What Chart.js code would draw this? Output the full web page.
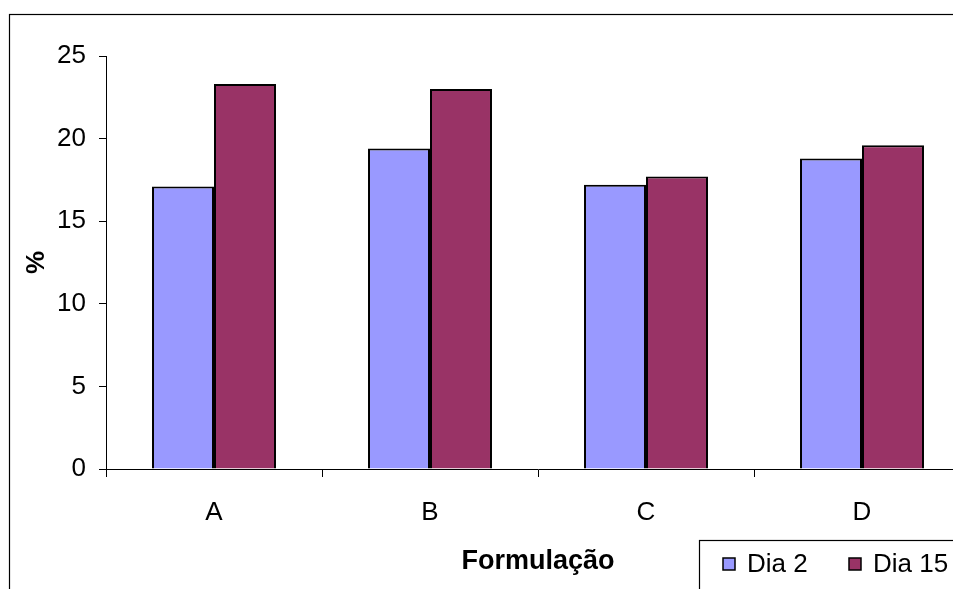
<!DOCTYPE html>
<html>
<head>
<meta charset="utf-8">
<script src="https://cdn.jsdelivr.net/npm/chart.js@4"></script>
<style>
  html, body { margin: 0; padding: 0; background: #fff; overflow: hidden; }
  #wrap { position: absolute; left: 0; top: 0; width: 1000px; height: 589px; }
</style>
</head>
<body>
<div id="wrap"><canvas id="c" width="1000" height="589"></canvas></div>
<script>
// Formulations and measured percentage per storage day
const categories = ['A', 'B', 'C', 'D'];
const seriesNames = ['Dia 2', 'Dia 15'];
const dia2 = [17.1, 19.4, 17.2, 18.8];
const dia15 = [23.3, 23.0, 17.7, 19.6];
const yTicks = [0, 5, 10, 15, 20, 25];

const FONT = '"Liberation Sans", Arial, sans-serif';
const colors = ['#9999FF', '#993366'];

// Outer chart frame and the boxed legend in the lower right
const framePlugin = {
  id: 'frame',
  beforeDraw(chart) {
    const ctx = chart.ctx;
    ctx.save();
    ctx.fillStyle = '#fff';
    ctx.fillRect(0, 0, chart.width, chart.height);
    ctx.strokeStyle = '#000';
    ctx.lineWidth = 1.2;
    ctx.strokeRect(9.5, 14.5, 3000, 3000);
    ctx.restore();
  },
  afterDraw(chart) {
    const ctx = chart.ctx;
    ctx.save();
    ctx.fillStyle = '#fff';
    ctx.fillRect(699.5, 540.5, 400, 100);
    ctx.strokeStyle = '#000';
    ctx.lineWidth = 1.2;
    ctx.strokeRect(699.5, 540.5, 400, 100);
    ctx.font = '26px ' + FONT;
    ctx.textBaseline = 'middle';
    const xs = [723, 849];
    chart.data.datasets.forEach((ds, i) => {
      const x = xs[i];
      ctx.fillStyle = ds.backgroundColor;
      ctx.fillRect(x, 558, 12, 12);
      ctx.strokeStyle = '#000';
      ctx.lineWidth = 1.5;
      ctx.strokeRect(x, 558, 12, 12);
      ctx.fillStyle = '#000';
      ctx.fillText(ds.label, x + 24, 565);
    });
    ctx.restore();
  }
};

new Chart(document.getElementById('c'), {
  type: 'bar',
  data: {
    labels: categories,
    datasets: [
      { label: seriesNames[0], data: dia2, backgroundColor: colors[0], borderColor: '#000', borderWidth: 2 },
      { label: seriesNames[1], data: dia15, backgroundColor: colors[1], borderColor: '#000', borderWidth: 2 }
    ]
  },
  options: {
    responsive: false,
    animation: false,
    devicePixelRatio: 1,
    layout: { padding: { top: 56, right: 30, left: 0, bottom: 0 } },
    datasets: { bar: { categoryPercentage: 0.574, barPercentage: 1.0 } },
    plugins: { legend: { display: false }, tooltip: { enabled: false } },
    scales: {
      x: {
        offset: true,
        grid: { offset: true, drawOnChartArea: false, drawTicks: true, tickLength: 8, color: '#000', lineWidth: 1 },
        border: { color: '#000', width: 1 },
        ticks: { color: '#000', font: { family: FONT, size: 26 }, padding: 20 },
        title: { display: true, text: 'Formulação', color: '#000', font: { family: FONT, size: 27, weight: 'bold' }, padding: { top: 0, bottom: 11 } },
        afterFit(s) { s.height = 120; }
      },
      y: {
        min: 0, max: 25,
        afterBuildTicks(s) { s.ticks = yTicks.map(v => ({ value: v })); },
        grid: { drawOnChartArea: false, drawTicks: true, tickLength: 7, color: '#000', lineWidth: 1 },
        border: { color: '#000', width: 1 },
        ticks: { color: '#000', font: { family: FONT, size: 26 }, padding: 13 },
        title: { display: true, text: '%', color: '#000', font: { family: FONT, size: 26, weight: 'bold' }, padding: { top: 21, bottom: 0 } },
        afterFit(s) { s.width = 106; }
      }
    }
  },
  plugins: [framePlugin]
});
</script>
</body>
</html>
